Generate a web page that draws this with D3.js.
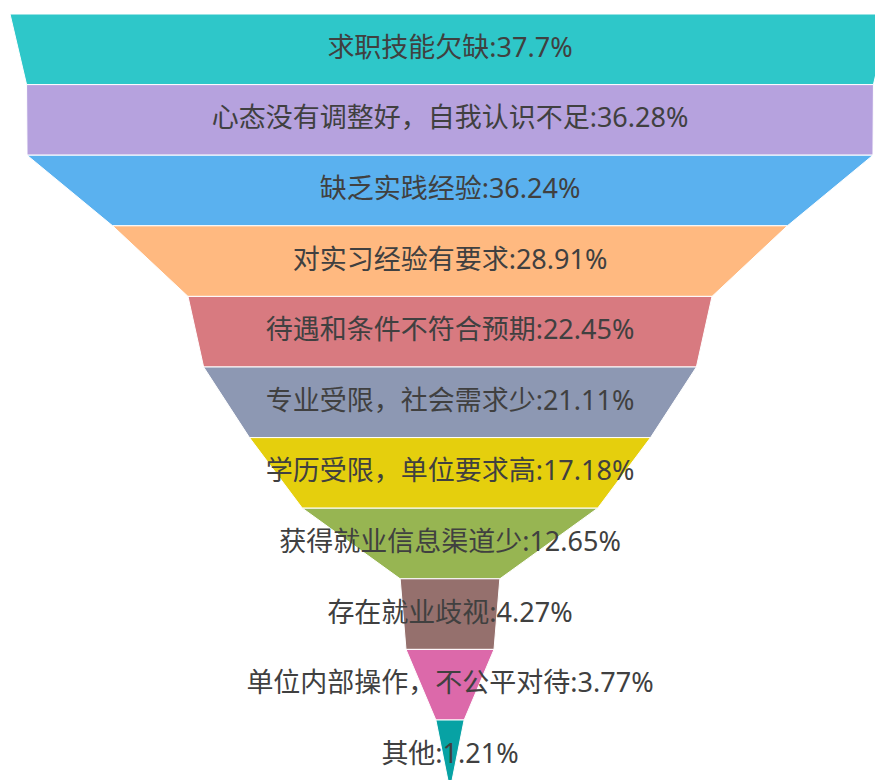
<!DOCTYPE html>
<html>
<head>
<meta charset="utf-8">
<script src="https://cdn.jsdelivr.net/npm/d3@7"></script>
<style>
  body { margin: 0; background: #fff; }
  svg { display: block; }
</style>
</head>
<body>
<div id="chart"></div>
<script>
var names = ["求职技能欠缺", "心态没有调整好，自我认识不足", "缺乏实践经验", "对实习经验有要求",
    "待遇和条件不符合预期", "专业受限，社会需求少", "学历受限，单位要求高", "获得就业信息渠道少",
    "存在就业歧视", "单位内部操作，不公平对待", "其他"];
var values = [37.7, 36.28, 36.24, 28.91, 22.45, 21.11, 17.18, 12.65, 4.27, 3.77, 1.21];
var colors = ["#2ec7c9", "#b6a2de", "#5ab1ef", "#ffb980", "#d87a80", "#8d98b3",
    "#e5cf0d", "#97b552", "#95706d", "#dc69aa", "#07a2a4"];

var width = 875,
    height = 780,
    cx = 450,
    topY = 14,
    layerH = 70.6;

var w = d3.scaleLinear()
    .domain([0, d3.max(values)])
    .range([0, 880]);

var y = d3.scaleBand()
    .domain(names)
    .range([topY, topY + layerH * names.length]);

var svg = d3.select("#chart").append("svg")
    .attr("width", width)
    .attr("height", height);

var rows = names.map(function(n, i) {
    return { name: n, value: values[i], next: i < values.length - 1 ? values[i + 1] : 0, color: colors[i] };
});

var g = svg.selectAll("g.layer")
    .data(rows)
    .enter().append("g")
    .attr("class", "layer");

g.append("path")
    .attr("d", function(d) {
        var y0 = y(d.name), y1 = y0 + y.bandwidth();
        var a = w(d.value) / 2, b = w(d.next) / 2;
        return "M" + (cx - a) + "," + y0 + "L" + (cx + a) + "," + y0 +
            "L" + (cx + b) + "," + y1 + "L" + (cx - b) + "," + y1 + "Z";
    })
    .style("fill", function(d) { return d.color; })
    .style("stroke", "#fff")
    .style("stroke-width", 1);

// labels sit inside each layer
g.append("text")
    .attr("x", cx)
    .attr("y", function(d) { return y(d.name) + y.bandwidth() / 2 - 3; })
    .attr("text-anchor", "middle")
    .attr("dominant-baseline", "central")
    .style("font-family", "'Noto Sans', 'Noto Sans CJK SC', sans-serif")
    .style("font-size", "27px")
    .style("fill", "#404040")
    .text(function(d) { return d.name + ":" + d.value + "%"; });
</script>
</body>
</html>
